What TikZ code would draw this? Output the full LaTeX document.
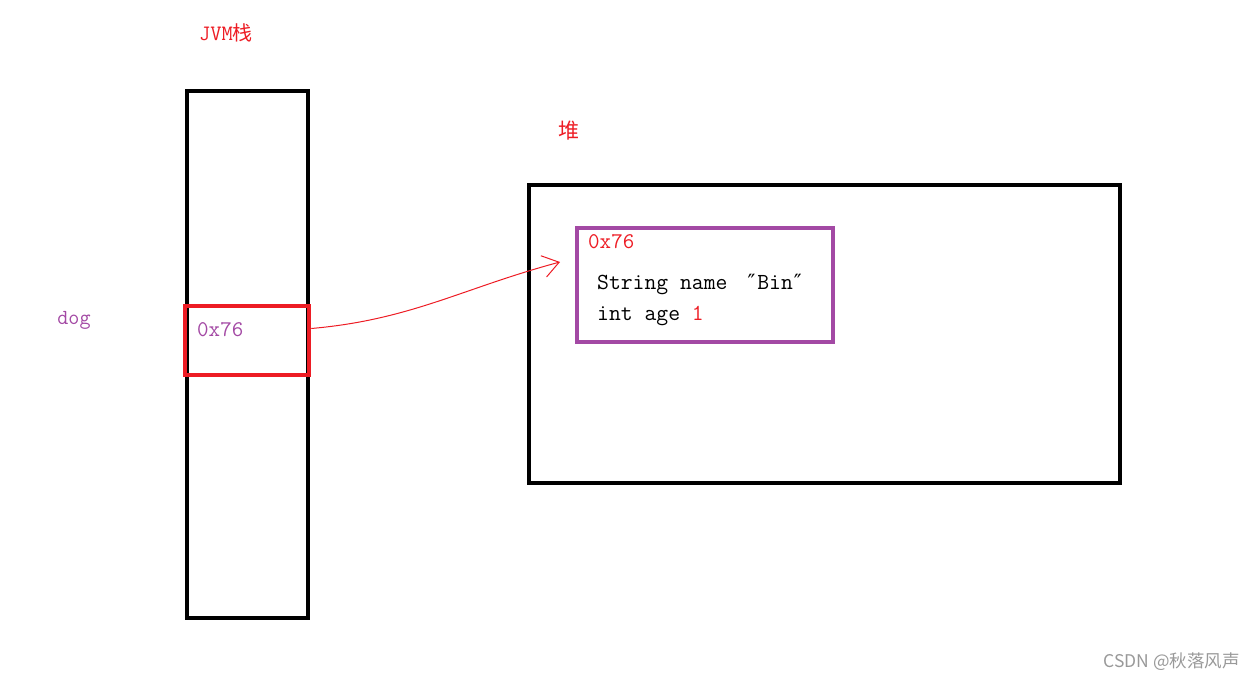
\documentclass[tikz,border=0pt]{standalone}
\usepackage{fontspec}
\newfontfamily\cjk{Noto Sans CJK SC}
\newfontfamily\quotefont{DejaVu Serif}
\usetikzlibrary{arrows.meta}
\definecolor{memred}{RGB}{237,28,36}
\definecolor{mempurple}{RGB}{163,73,164}
\newcommand{\dquote}{{\quotefont\fontsize{21}{24}\selectfont ″}}
\begin{document}
\begin{tikzpicture}[x=1pt,y=-1pt]
  \useasboundingbox (0,0) rectangle (1255,680);
  \node[draw, line width=4.5, minimum width=121, minimum height=527] (stack) at (247.5,354.5){};
  \node[draw, memred, line width=4.5, minimum width=124, minimum height=69] (slot) at (247,340.5){};
  \node[draw, line width=4, minimum width=591, minimum height=298] (heap) at (824.5,334){};
  \node[draw, mempurple, line width=3.5, minimum width=256, minimum height=114] (obj) at (705,285){};
  \node[memred, font=\fontsize{22}{26}\selectfont\ttfamily, inner sep=0] (stacklbl) at (226,33){JVM{\cjk\fontsize{20}{24}\selectfont 栈}};
  \node[memred, font=\fontsize{21}{25}\selectfont\cjk, inner sep=0] (heaplbl) at (569,131){堆};
  \node[mempurple, font=\fontsize{21.5}{25}\selectfont\ttfamily, inner sep=0] (dog) at (74,320){dog};
  \node[mempurple, font=\fontsize{22.4}{26}\selectfont\ttfamily, anchor=west, inner sep=0] (addr) at (197,330){0x76};
  \node[memred, font=\fontsize{22.4}{26}\selectfont\ttfamily, anchor=west, inner sep=0] (objaddr) at (588,242){0x76};
  \node[font=\fontsize{23}{27}\selectfont\ttfamily, anchor=west, inner sep=0] (name) at (597,284){String name\hspace{20pt}\dquote\hspace{2pt}Bin\hspace{1pt}\dquote};
  \node[font=\fontsize{23}{27}\selectfont\ttfamily, anchor=west, inner sep=0] (age) at (597,316){int age \textcolor{memred}{1}};
  \node[gray!80, font=\fontsize{17.5}{21}\selectfont\cjk, anchor=east, inner sep=0] (mark) at (1240,662){CSDN @秋落风声};
  \coordinate (tip) at (560,262);
  \draw[memred, line width=1, -{Straight Barb[length=16,width=22]}] ([yshift=12]slot.east) to[out=5,in=195] (tip);
\end{tikzpicture}
\end{document}
